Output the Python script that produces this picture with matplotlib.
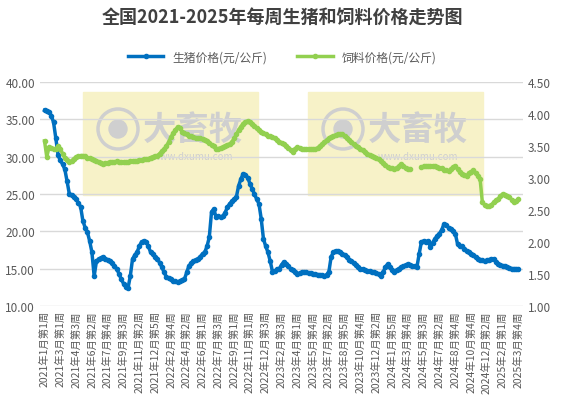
import numpy as np
import matplotlib.pyplot as plt
from matplotlib.patches import Rectangle, Ellipse

plt.rcParams['font.family'] = ['Noto Sans CJK SC', 'DejaVu Sans']

# --- data (weekly) ---
tick_labels = ["2021年1月第1周", "2021年3月第1周", "2021年4月第3周", "2021年6月第2周",
               "2021年7月第4周", "2021年9月第3周", "2021年11月第2周", "2021年12月第5周",
               "2022年2月第4周", "2022年4月第2周", "2022年6月第1周", "2022年7月第3周",
               "2022年9月第1周", "2022年11月第1周", "2022年12月第3周", "2023年2月第3周",
               "2023年4月第1周", "2023年5月第4周", "2023年7月第2周", "2023年8月第5周",
               "2023年10月第4周", "2023年12月第2周", "2024年1月第5周", "2024年3月第4周",
               "2024年5月第3周", "2024年7月第2周", "2024年8月第4周", "2024年10月第4周",
               "2024年12月第2周", "2025年2月第1周", "2025年3月第4周"]

hog = [36.2, 36.1, 36.0, 35.5, 34.6, 32.5, 30.2, 29.5, 29.0, 28.3,
       26.7, 25.0, 24.8, 24.6, 24.3, 23.8, 23.3, 21.4, 20.5, 19.9,
       18.7, 17.2, 14.0, 16.0, 16.3, 16.4, 16.6, 16.3, 16.2, 16.0,
       15.7, 15.3, 15.0, 14.3, 13.6, 13.0, 12.6, 12.4, 14.0, 16.3,
       16.8, 17.2, 18.0, 18.6, 18.7, 18.6, 18.0, 17.2, 16.9, 16.6,
       16.3, 15.8, 15.2, 14.5, 13.9, 13.7, 13.6, 13.4, 13.3, 13.2,
       13.3, 13.5, 13.6, 14.5, 15.4, 15.7, 16.0, 16.2, 16.3, 16.6,
       17.0, 17.2, 18.0, 19.2, 22.6, 23.0, 21.9, 22.0, 21.9, 22.0,
       22.5, 23.2, 23.7, 24.0, 24.3, 24.6, 26.1, 27.0, 27.7, 27.6,
       27.2, 26.4, 25.7, 25.0, 24.3, 23.7, 21.7, 19.0, 18.0, 17.2,
       16.0, 14.6, 14.7, 14.9, 15.0, 15.5, 15.9, 15.6, 15.3, 15.0,
       14.8, 14.5, 14.3, 14.4, 14.5, 14.6, 14.5, 14.4, 14.4, 14.3,
       14.3, 14.2, 14.2, 14.1, 14.0, 14.2, 14.6, 16.6, 17.2, 17.4,
       17.3, 17.2, 17.0, 16.8, 16.5, 16.2, 16.0, 15.8, 15.5, 15.2,
       15.0, 14.9, 14.8, 14.7, 14.7, 14.6, 14.5, 14.4, 14.3, 14.0,
       14.5, 15.2, 15.6, 15.2, 14.8, 14.6, 14.8, 15.0, 15.2, 15.3,
       15.5, 15.6, 15.5, 15.4, 15.3, 15.2, 17.0, 18.6, 18.7, 18.6,
       18.7, 17.9, 18.5, 19.0, 19.4, 19.7, 20.2, 21.0, 20.8, 20.5,
       20.3, 20.0, 19.7, 18.3, 18.1, 18.0, 17.7, 17.4, 17.2, 17.0,
       16.8, 16.5, 16.3, 16.2, 16.1, 16.0, 16.1, 16.2, 16.3, 16.3,
       15.9, 15.6, 15.5, 15.4, 15.3, 15.2, 15.1, 15.0, 15.0, 15.0,
       14.9]

nan = np.nan
feed = [3.58, 3.33, 3.48, 3.47, 3.46, 3.45, 3.50, 3.46, 3.38, 3.32,
        3.28, 3.25, 3.27, 3.30, 3.33, 3.34, 3.35, 3.35, 3.34, 3.32,
        3.31, 3.30, 3.28, 3.27, 3.25, 3.24, 3.22, 3.23, 3.24, 3.25,
        3.25, 3.25, 3.26, 3.25, 3.25, 3.25, 3.25, 3.25, 3.26, 3.26,
        3.27, 3.27, 3.28, 3.28, 3.29, 3.30, 3.30, 3.32, 3.33, 3.34,
        3.35, 3.38, 3.42, 3.45, 3.50, 3.56, 3.64, 3.70, 3.75, 3.80,
        3.78, 3.72, 3.70, 3.68, 3.66, 3.65, 3.64, 3.63, 3.62, 3.62,
        3.61, 3.60, 3.58, 3.55, 3.52, 3.50, 3.45, 3.46, 3.47, 3.48,
        3.50, 3.52, 3.53, 3.56, 3.62, 3.68, 3.75, 3.80, 3.85, 3.88,
        3.89, 3.87, 3.84, 3.81, 3.78, 3.75, 3.72, 3.70, 3.68, 3.66,
        3.65, 3.64, 3.62, 3.60, 3.57, 3.55, 3.53, 3.50, 3.47, 3.44,
        3.41, 3.46, 3.48, 3.47, 3.46, 3.45, 3.45, 3.45, 3.45, 3.45,
        3.45, 3.47, 3.50, 3.53, 3.56, 3.59, 3.62, 3.64, 3.66, 3.67,
        3.68, 3.69, 3.68, 3.65, 3.62, 3.59, 3.56, 3.53, 3.50, 3.48,
        3.45, 3.43, 3.41, 3.38, 3.36, 3.35, 3.33, 3.31, 3.29, 3.26,
        3.23, 3.20, 3.17, 3.16, 3.15, 3.14, 3.16, 3.18, 3.22, 3.19,
        3.16, 3.14, 3.14, nan, nan, nan, nan, 3.17, 3.18, 3.19,
        3.18, 3.19, 3.19, 3.18, 3.17, 3.16, 3.15, 3.13, 3.12, 3.11,
        3.14, 3.17, 3.19, 3.14, 3.09, 3.07, 3.05, 3.03, 3.08, 3.10,
        3.12, 3.08, 3.03, 2.98, 2.62, 2.58, 2.57, 2.56, 2.58, 2.62,
        2.65, 2.67, 2.72, 2.75, 2.74, 2.72, 2.70, 2.66, 2.62, 2.64,
        2.67]

BLUE = '#0070C0'
GREEN = '#92D050'
GRAY = '#595959'

x = np.arange(len(hog))

fig = plt.figure(figsize=(5.65, 4.14), dpi=100)
ax = fig.add_axes([40 / 565, 1 - 307 / 414, 483 / 565, 224 / 414])
ax2 = ax.twinx()
ax.set_zorder(2)
ax2.set_zorder(3)

# watermarks (behind the axes)
for x0 in (83, 308):
    fig.patches.append(Rectangle((x0 / 565, 1 - 196 / 414), 175 / 565, 103 / 414,
                                 transform=fig.transFigure, color='#F7F2C8', zorder=0))
    fig.text((x0 + 110) / 565, 1 - 130 / 414, '大畜牧', fontsize=24, color='#CFCFCF',
             ha='center', va='center', fontweight='bold', zorder=1)
    fig.text((x0 + 110) / 565, 1 - 157 / 414, 'www.dxumu.com', fontsize=7,
             color='#CFCFCF', ha='center', va='center', zorder=1)
    fig.patches.append(Ellipse(((x0 + 35) / 565, 1 - 130 / 414), 40 / 565, 40 / 414,
                               transform=fig.transFigure, fill=False, ec='#CFCFCF',
                               lw=2.5, zorder=1))
    fig.patches.append(Ellipse(((x0 + 35) / 565, 1 - 130 / 414), 18 / 565, 18 / 414,
                               transform=fig.transFigure, color='#CFCFCF', zorder=1))
ax.patch.set_alpha(0)
ax2.patch.set_alpha(0)

ax.plot(x, hog, color=BLUE, lw=2.5, marker='o', ms=3, zorder=3, label='生猪价格(元/公斤)')
ax2.plot(x, feed, color=GREEN, lw=2.5, marker='o', ms=3, zorder=3, label='饲料价格(元/公斤)')

ax.set_ylim(10, 40)
ax.set_yticks(np.arange(10, 40.1, 5))
ax.set_yticklabels([f'{v:.2f}' for v in np.arange(10, 40.1, 5)])
ax2.set_ylim(1, 4.5)
ax2.set_yticks(np.arange(1, 4.51, 0.5))
ax2.set_yticklabels([f'{v:.2f}' for v in np.arange(1, 4.51, 0.5)])
ax.set_xlim(-2, len(hog) + 1)
ax.set_xticks(np.arange(0, len(hog), 7))
ax.set_xticklabels(tick_labels, rotation=90, fontsize=7.5, color=GRAY)
ax.grid(axis='y', color='#D9D9D9', lw=1)
ax.set_axisbelow(True)

for a in (ax, ax2):
    for s in a.spines.values():
        s.set_visible(False)
    a.tick_params(length=0, labelsize=8.5, labelcolor=GRAY)
ax.tick_params(axis='x', labelsize=7.5, pad=3)

fig.text(0.5, 1 - 18 / 414, '全国2021-2025年每周生猪和饲料价格走势图', ha='center', va='center',
         fontsize=13, fontweight='bold', color='#404040')
h1, l1 = ax.get_legend_handles_labels()
h2, l2 = ax2.get_legend_handles_labels()
fig.legend(h1 + h2, l1 + l2, loc='center', bbox_to_anchor=(0.5, 1 - 58 / 414), ncol=2,
           frameon=False, fontsize=8.5, labelcolor=GRAY, handlelength=3, columnspacing=2.5)

fig.savefig('out.png', dpi=100)
